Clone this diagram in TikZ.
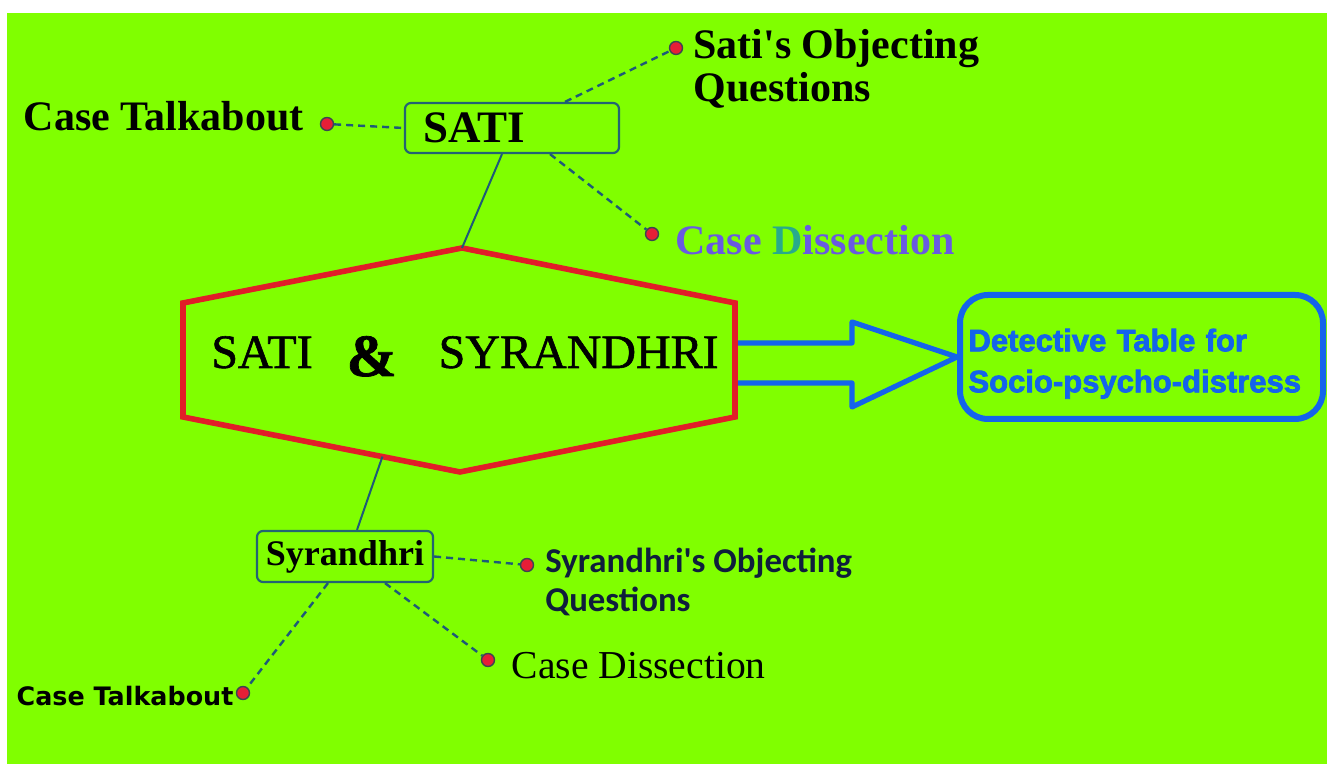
\documentclass[tikz,border=0pt]{standalone}
\usepackage{fontspec}
\setmainfont{Liberation Serif}
\newfontfamily\carlitofont{Carlito}
\newfontfamily\dejavufont{DejaVu Sans}
\newfontfamily\tablefont{Liberation Sans}[BoldFeatures={FakeBold=2.5}]
\newfontfamily\coreserif{Liberation Serif}[FakeBold=1.2]
\usepackage{tikz}
\usetikzlibrary{positioning,calc}
\definecolor{bggreen}{RGB}{128,255,0}
\definecolor{hexred}{RGB}{225,30,40}
\definecolor{arrowblue}{RGB}{20,100,235}
\definecolor{boxteal}{RGB}{35,100,115}
\definecolor{lineteal}{RGB}{30,90,120}
\definecolor{dotred}{RGB}{230,30,55}
\definecolor{dotrim}{RGB}{60,70,80}
\definecolor{dissectpurple}{RGB}{105,90,225}
\definecolor{dissectgreen}{RGB}{40,170,140}
\definecolor{navytext}{RGB}{15,30,60}
\tikzset{
  hubbox/.style={draw=boxteal, line width=1.1pt, rounded corners=3pt, inner ysep=0pt},
  dotn/.style={circle, draw=dotrim, fill=dotred, line width=0.7pt, minimum size=6.5pt, inner sep=0pt},
  dline/.style={draw=lineteal, line width=1.2pt, dash pattern=on 3.5pt off 2.5pt},
  sline/.style={draw=lineteal, line width=1pt},
  hexline/.style={draw=hexred, line width=2.8pt, line join=miter},
  blockarrow/.style={draw=arrowblue, line width=2.6pt, line join=round},
  tablebox/.style={draw=arrowblue, line width=3pt, rounded corners=14pt, minimum height=62pt,
    text width=173pt, align=left, inner xsep=4.25pt, text=arrowblue,
    font=\tablefont\fontsize{15.5}{20.5}\selectfont\bfseries},
  serifleaf/.style={inner sep=0pt, font=\fontsize{21}{21.5}\selectfont\bfseries},
}

\begin{document}
\begin{tikzpicture}[x=0.5pt, y=0.5pt]
  \useasboundingbox (0,0) rectangle (1327,764);
  \fill[white] (0,0) rectangle (1327,764);
  \fill[bggreen] (7,0) rectangle (1327,751);

  % central hexagon
  \coordinate (hT) at (462,516);
  \coordinate (hUR) at (735,461);
  \coordinate (hLR) at (735,347);
  \coordinate (hB) at (460,292);
  \coordinate (hLL) at (183,347);
  \coordinate (hUL) at (183,461);
  \draw[hexline] (hT) -- (hUR) -- (hLR) -- (hB) -- (hLL) -- (hUL) -- cycle;
  \node[inner sep=0pt, anchor=base, font=\coreserif\fontsize{24}{24}\selectfont] (core) at (465,396)
    {SATI\hspace{17pt}\raisebox{-4pt}{\fontsize{30}{30}\selectfont\bfseries\&}\hspace{21pt}SYRANDHRI};

  % result box and block arrow
  \node[tablebox] (dbox) at (1141.5,407) {\rule{0pt}{18pt}Detective Table for\\Socio-psycho-distress};
  \draw[blockarrow] (738,421) -- (852,421) -- (852,442) -- (dbox.west) -- (852,357) -- (852,381) -- (738,381);

  % SATI branch
  \node[hubbox, text width=89pt, align=left, inner xsep=9pt, minimum height=25pt,
    font=\fontsize{22.5}{22.5}\selectfont\bfseries] (satibox) at (512,636) {SATI};
  \node[dotn] (d1) at (327,640) {};
  \node[dotn] (d2) at (676,716) {};
  \node[dotn] (d3) at (652,530) {};
  \node[serifleaf, left=8pt of d1, yshift=4pt] (l1) {Case Talkabout};
  \node[serifleaf, align=left, anchor=north west] (l2) at (693,735) {Sati\textquotesingle s Objecting\\Questions};
  \node[serifleaf, right=8pt of d3, yshift=-3pt, text=dissectpurple] (l3) {Case {\color{dissectgreen}D}issection};
  \draw[dline] (d1) -- (satibox.west);
  \draw[dline] ($(satibox.north)+(53,0)$) -- (d2);
  \draw[dline] ($(satibox.south)+(38,0)$) -- (d3);
  \draw[sline] ($(satibox.south)+(-10,0)$) -- (hT);

  % Syrandhri branch
  \node[hubbox, minimum width=88pt, minimum height=25.5pt, inner xsep=0pt,
    font=\fontsize{18}{18}\selectfont\bfseries] (syrbox) at (345,207.5) {Syrandhri};
  \node[dotn] (d4) at (527,199) {};
  \node[dotn] (d5) at (488,104) {};
  \node[dotn] (d6) at (243,71) {};
  \node[inner sep=0pt, align=left, anchor=north west, text=navytext,
    font=\carlitofont\fontsize{17.4}{19.5}\selectfont\bfseries] (l4) at (545,216) {Syrandhri\textquotesingle s Objecting\\Questions};
  \node[inner sep=0pt, right=8pt of d5, yshift=-3pt, font=\fontsize{19.8}{20}\selectfont] (l5) {Case Dissection};
  \node[inner sep=0pt, left=1pt of d6, yshift=-1.5pt, font=\dejavufont\fontsize{12.7}{13}\selectfont\bfseries] (l6) {Case Talkabout};
  \draw[sline] ($(hLL)!0.72!(hB)$) -- ($(syrbox.north)+(12,0)$);
  \draw[dline] (syrbox.east) -- (d4);
  \draw[dline] ($(syrbox.south)+(40,0)$) -- (d5);
  \draw[dline] ($(syrbox.south)+(-17,0)$) -- (d6);
\end{tikzpicture}
\end{document}
